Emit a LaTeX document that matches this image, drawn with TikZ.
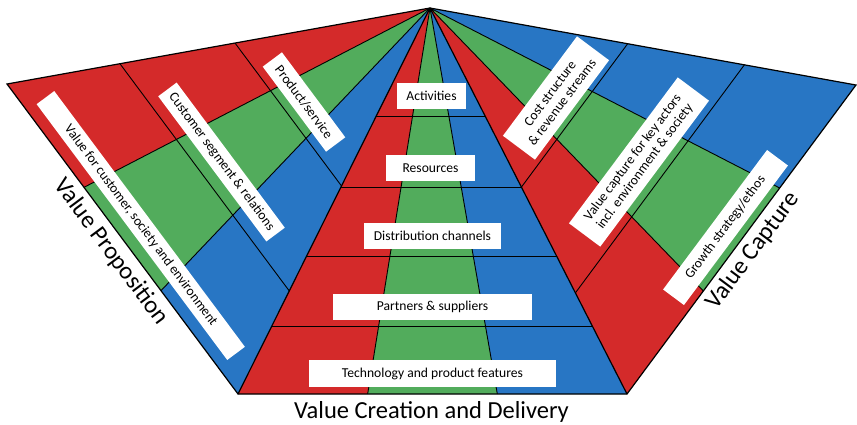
\documentclass[tikz,border=0pt]{standalone}
\usepackage{fontspec}
\setmainfont{Carlito}
\usetikzlibrary{calc}
\definecolor{cred}{RGB}{212,42,42}
\definecolor{cgreen}{RGB}{82,172,92}
\definecolor{cblue}{RGB}{40,118,196}
\begin{document}
\begin{tikzpicture}[x=1pt,y=-1pt,
  sep/.style={draw=black, line width=0.9pt},
  outline/.style={draw=black, line width=1.2pt, line join=miter},
  lbl/.style={fill=white, inner sep=0pt, font=\fontsize{13.6}{15}\selectfont, align=center},
  big/.style={font=\fontsize{24.5}{28}\selectfont}]
\useasboundingbox (0,0) rectangle (857,424);
\coordinate (A) at (430,8);
\coordinate (L) at (7,84);
\coordinate (BL) at (238,394);
\coordinate (BR) at (627,394);
\coordinate (R) at (856,85);
% division points
\coordinate (L1) at ($(L)!1/3!(BL)$);
\coordinate (L2) at ($(L)!2/3!(BL)$);
\coordinate (C1) at ($(BL)!1/3!(BR)$);
\coordinate (C2) at ($(BL)!2/3!(BR)$);
\coordinate (R1) at ($(R)!1/3!(BR)$);
\coordinate (R2) at ($(R)!2/3!(BR)$);
% left wedges
\fill[cred] (A) -- (L) -- (L1) -- cycle;
\fill[cgreen] (A) -- (L1) -- (L2) -- cycle;
\fill[cblue] (A) -- (L2) -- (BL) -- cycle;
% centre wedges
\fill[cred] (A) -- (BL) -- (C1) -- cycle;
\fill[cgreen] (A) -- (C1) -- (C2) -- cycle;
\fill[cblue] (A) -- (C2) -- (BR) -- cycle;
% right wedges
\fill[cblue] (A) -- (R) -- (R1) -- cycle;
\fill[cgreen] (A) -- (R1) -- (R2) -- cycle;
\fill[cred] (A) -- (R2) -- (BR) -- cycle;
% fan lines
\draw[sep] (A) -- (L1) (A) -- (L2) (A) -- (C1) (A) -- (C2) (A) -- (R1) (A) -- (R2);
% left cross lines
\draw[sep] ($(L)!0.267!(A)$) -- ($(BL)!0.267!(A)$);
\draw[sep] ($(L)!0.539!(A)$) -- ($(BL)!0.539!(A)$);
% right cross lines
\draw[sep] ($(R)!0.262!(A)$) -- ($(BR)!0.262!(A)$);
\draw[sep] ($(R)!0.536!(A)$) -- ($(BR)!0.536!(A)$);
% centre horizontal lines
\foreach \t in {0.2816,0.4637,0.6425,0.8238}
  \draw[sep] ($(A)!\t!(BL)$) -- ($(A)!\t!(BR)$);
% outline
\draw[outline] (A) -- (L) -- (BL) -- (BR) -- (R) -- cycle;
\draw[outline] (A) -- (BL) (A) -- (BR);
% centre labels
\node[lbl, minimum width=69pt, minimum height=26pt] (act) at (431.5,96) {Activities};
\node[lbl, minimum width=89pt, minimum height=26pt] (res) at (430.5,168) {Resources};
\node[lbl, minimum width=137pt, minimum height=26pt] (dist) at (432.5,236) {Distribution channels};
\node[lbl, minimum width=199pt, minimum height=26pt] (part) at (432.5,307) {Partners \& suppliers};
\node[lbl, minimum width=247pt, minimum height=27pt] (tech) at (432.5,373.5) {Technology and product features};
% left labels
\node[lbl, rotate=-53.3, minimum width=319pt, minimum height=22pt] (vfc) at (140.75,225.5) {Value for customer, society and environment};
\node[lbl, rotate=-53.3, minimum width=181pt, minimum height=23pt] (csr) at (221.5,162) {Customer segment \& relations};
\node[lbl, rotate=-53.3, minimum width=106pt, minimum height=24pt] (ps) at (304,102) {Product/service};
% right labels
\node[lbl, rotate=53.3, minimum width=124pt, minimum height=40pt] (cost) at (556,98) {Cost structure\\\& revenue streams};
\node[lbl, rotate=53.3, minimum width=182pt, minimum height=39pt] (vcap) at (639,162) {Value capture for key actors\\incl. environment \& society};
\node[lbl, rotate=53.3, minimum width=174pt, minimum height=26pt] (gse) at (725.5,227.5) {Growth strategy/ethos};
% big titles
\node[big, rotate=-53.3] (vp) at (111,252) {Value Proposition};
\node[big, rotate=53.3] (vc) at (753,251) {Value Capture};
\node[big, anchor=base] (vcd) at (431.5,418.5) {Value Creation and Delivery};
\end{tikzpicture}
\end{document}
